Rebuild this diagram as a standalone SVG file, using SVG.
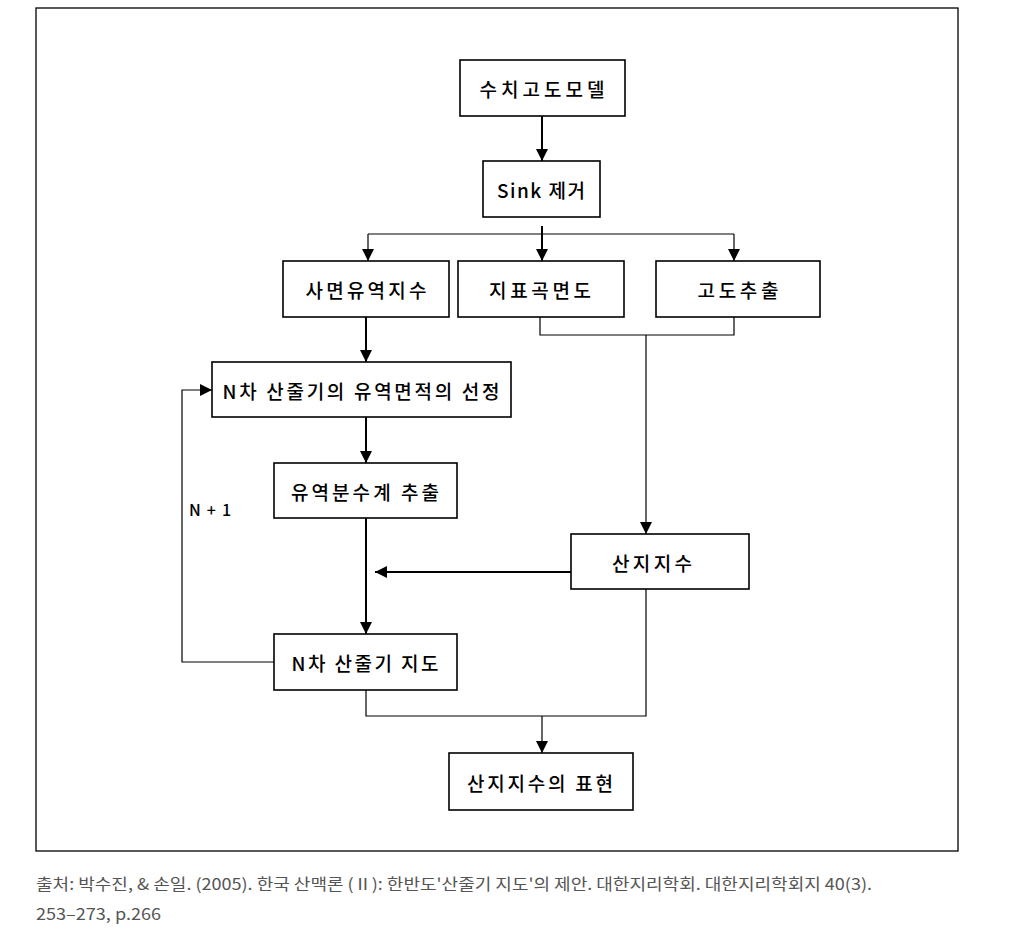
<svg xmlns="http://www.w3.org/2000/svg" width="1010" height="941" viewBox="0 0 1010 941">
<style>
.box{fill:#fff;stroke:#000;stroke-width:1.6}
.t{font-family:"Noto Sans CJK KR","Noto Sans",sans-serif;font-size:19px;font-weight:500;fill:#000;text-anchor:middle;dominant-baseline:central}
.thick{fill:none;stroke:#000;stroke-width:2}
.thin{fill:none;stroke:#000;stroke-width:1.2}
.cap{font-family:"Noto Sans CJK KR","Noto Sans",sans-serif;font-size:16px;fill:#555}
</style>
<defs>
<marker id="ah" viewBox="0 0 12 12" refX="12" refY="6" markerWidth="12" markerHeight="12" markerUnits="userSpaceOnUse" orient="auto">
<path d="M0,0 L12,6 L0,12 z" fill="#000"/>
</marker>
</defs>
<rect x="0" y="0" width="1010" height="941" fill="#fff"/>
<rect x="36" y="8" width="922" height="843" fill="none" stroke="#000" stroke-width="1.3"/>
<g id="connectors">
<path class="thick" d="M542,116 V161" marker-end="url(#ah)"/>
<path class="thick" d="M542,226 V261" marker-end="url(#ah)"/>
<path class="thin" d="M368,234 H734"/>
<path class="thin" d="M368,234 V261" marker-end="url(#ah)"/>
<path class="thin" d="M734,234 V261" marker-end="url(#ah)"/>
<path class="thin" d="M540,317 V335 H734 V317"/>
<path class="thin" d="M646,335 V534" marker-end="url(#ah)"/>
<path class="thick" d="M366,317 V362" marker-end="url(#ah)"/>
<path class="thick" d="M366,417 V463" marker-end="url(#ah)"/>
<path class="thick" d="M366,518 V634" marker-end="url(#ah)"/>
<path class="thick" d="M571,572 H375" marker-end="url(#ah)"/>
<path class="thin" d="M274,662 H182 V390 H212" marker-end="url(#ah)"/>
<path class="thin" d="M646,589 V716 H366 V690"/>
<path class="thin" d="M542,716 V753" marker-end="url(#ah)"/>
</g>
<g id="n1"><rect class="box" x="460" y="60" width="165" height="56"/><text class="t" x="542" y="88" textLength="125" lengthAdjust="spacing">수치고도모델</text></g>
<g id="n2"><rect class="box" x="483" y="161" width="117" height="56"/><text class="t" x="541" y="189" textLength="88" lengthAdjust="spacing">Sink 제거</text></g>
<g id="n3"><rect class="box" x="283" y="261" width="166" height="56"/><text class="t" x="366" y="289" textLength="121" lengthAdjust="spacing">사면유역지수</text></g>
<g id="n4"><rect class="box" x="458" y="261" width="166" height="56"/><text class="t" x="540" y="289" textLength="102" lengthAdjust="spacing">지표곡면도</text></g>
<g id="n5"><rect class="box" x="656" y="261" width="164" height="56"/><text class="t" x="738" y="289" textLength="81" lengthAdjust="spacing">고도추출</text></g>
<g id="n6"><rect class="box" x="212" y="362" width="299" height="55"/><text class="t" x="361" y="390" textLength="277" lengthAdjust="spacing">N차 산줄기의 유역면적의 선정</text></g>
<g id="n7"><rect class="box" x="274" y="463" width="183" height="55"/><text class="t" x="365" y="491" textLength="148" lengthAdjust="spacing">유역분수계 추출</text></g>
<g id="n8"><rect class="box" x="571" y="534" width="178" height="55"/><text class="t" x="652" y="562" textLength="80" lengthAdjust="spacing">산지지수</text></g>
<g id="n9"><rect class="box" x="274" y="634" width="183" height="56"/><text class="t" x="365" y="662" textLength="147" lengthAdjust="spacing">N차 산줄기 지도</text></g>
<g id="n10"><rect class="box" x="449" y="753" width="184" height="57"/><text class="t" x="540" y="782" textLength="146" lengthAdjust="spacing">산지지수의 표현</text></g>
<text class="t" x="210" y="509" style="font-size:16px" textLength="42" lengthAdjust="spacing">N + 1</text>
<text class="cap" x="36" y="890" textLength="836" lengthAdjust="spacingAndGlyphs">출처: 박수진, &amp; 손일. (2005). 한국 산맥론 (Ⅱ): 한반도'산줄기 지도'의 제안. 대한지리학회. 대한지리학회지 40(3).</text>
<text class="cap" x="36" y="920" textLength="125" lengthAdjust="spacingAndGlyphs">253–273, p.266</text>
</svg>
